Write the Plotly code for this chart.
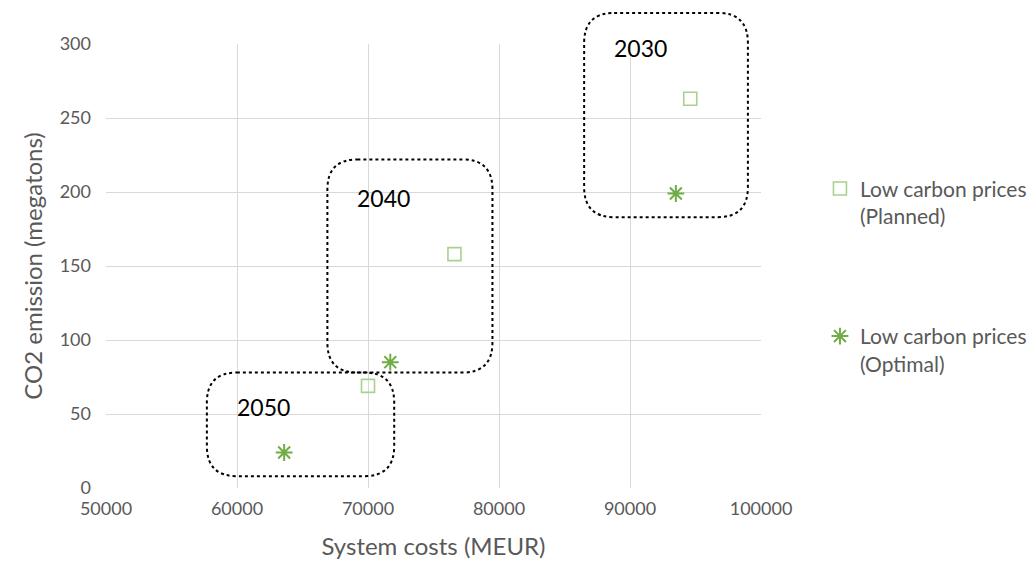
import plotly.graph_objects as go

planned_x = [94600, 76600, 70000]
planned_y = [263, 158, 69]
optimal_x = [93500, 71700, 63600]
optimal_y = [199, 85, 24]

box_labels = ["2030", "2040", "2050"]
box_x0 = [86500, 66900, 57700]
box_x1 = [99000, 79500, 72000]
box_y0 = [183, 78, 8]
box_y1 = [321, 222, 78]
label_x = [90800, 71200, 62000]
label_y = [297, 196, 55]

X_RANGE = [50000, 100000]
Y_RANGE = [0, 300]

GRAY = "#595959"
FONT = "Lato, 'Open Sans', sans-serif"

W, H = 1019, 552
ML, MR, MT, MB = 98, 266, 36, 72
PW = W - ML - MR
PH = H - MT - MB

fig = go.Figure()
fig.add_trace(go.Scatter(
    x=planned_x, y=planned_y, mode="markers",
    name="Low carbon prices<br>(Planned)", legendgroup="a",
    marker=dict(symbol="square-open", size=13, color="#a9d18e", line=dict(width=1.6, color="#a9d18e")),
))
fig.add_trace(go.Scatter(
    x=optimal_x, y=optimal_y, mode="markers",
    name="Low carbon prices<br>(Optimal)", legendgroup="b",
    marker=dict(symbol="asterisk-open", size=14, color="#70ad47", line=dict(width=2, color="#70ad47")),
))

# rounded dotted boxes (y in paper units so they are not clipped)
def ypaper(v):
    return (v - Y_RANGE[0]) / (Y_RANGE[1] - Y_RANGE[0])

r = 30
rx = r * (X_RANGE[1] - X_RANGE[0]) / PW
ry = r / PH
for x0, x1, y0, y1 in zip(box_x0, box_x1, box_y0, box_y1):
    b, t = ypaper(y0), ypaper(y1)
    path = (f"M {x0+rx},{t} L {x1-rx},{t} Q {x1},{t} {x1},{t-ry} "
            f"L {x1},{b+ry} Q {x1},{b} {x1-rx},{b} "
            f"L {x0+rx},{b} Q {x0},{b} {x0},{b+ry} "
            f"L {x0},{t-ry} Q {x0},{t} {x0+rx},{t} Z")
    fig.add_shape(type="path", path=path, xref="x", yref="paper",
                  line=dict(color="black", width=2, dash="dot"))

for t, x, y in zip(box_labels, label_x, label_y):
    fig.add_annotation(x=x, y=y, text=t, showarrow=False, xref="x", yref="y",
                       font=dict(size=23, color="black", family=FONT))

fig.update_layout(
    width=W, height=H,
    margin=dict(l=ML, r=MR, t=MT, b=MB, autoexpand=False),
    plot_bgcolor="white", paper_bgcolor="white",
    font=dict(family=FONT, color=GRAY, size=18),
    legend=dict(x=1.09, y=0.72, xanchor="left", yanchor="top",
                font=dict(size=21, color=GRAY), tracegroupgap=90,
                traceorder="grouped", itemwidth=30, valign="top"),
    showlegend=True,
)
fig.update_xaxes(range=X_RANGE, dtick=10000, tickformat="d", showgrid=True, gridcolor="#d9d9d9",
                 gridwidth=1, zeroline=False, showline=False, ticks="",
                 ticklabelstandoff=8,
                 title=dict(text="System costs (MEUR)", font=dict(size=24, color=GRAY), standoff=22),
                 tickfont=dict(size=18, color=GRAY))
fig.update_yaxes(range=Y_RANGE, dtick=50, showgrid=True, gridcolor="#d9d9d9",
                 gridwidth=1, zeroline=False, showline=False, ticks="",
                 ticklabelstandoff=14,
                 title=dict(text="CO2 emission (megatons)", font=dict(size=24, color=GRAY), standoff=10),
                 tickfont=dict(size=18, color=GRAY))

fig.write_html("out.html")
